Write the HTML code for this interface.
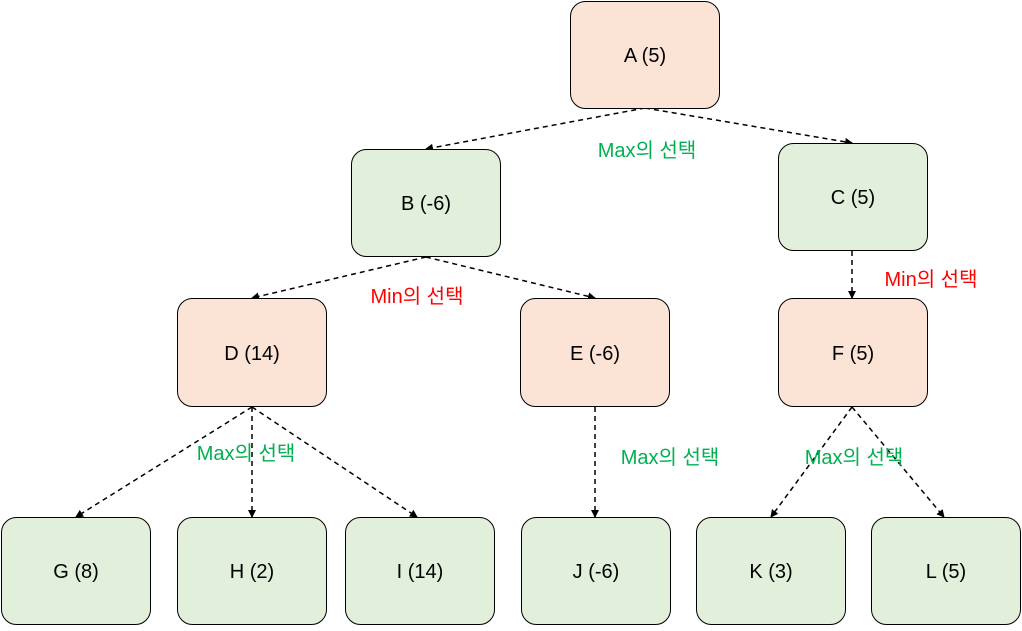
<!DOCTYPE html>
<html><head><meta charset="utf-8"><style>
body{margin:0;background:#fff;}
svg text{font-family:"Liberation Sans","Noto Sans CJK KR",sans-serif;}
</style></head><body>
<svg width="1022" height="626" viewBox="0 0 1022 626" xmlns="http://www.w3.org/2000/svg">
<defs><marker id="ar" markerWidth="8" markerHeight="8" refX="7" refY="4" orient="auto" markerUnits="userSpaceOnUse"><path d="M0,0 L8,4 L0,8 Z" fill="#000"/></marker></defs>
<g stroke="#000" stroke-width="1.5" stroke-dasharray="5,4" marker-end="url(#ar)" fill="none">
<line x1="645" y1="108" x2="426" y2="149"/>
<line x1="645" y1="108" x2="852" y2="143"/>
<line x1="426" y1="257" x2="252" y2="298"/>
<line x1="426" y1="257" x2="595" y2="298"/>
<line x1="852" y1="251" x2="852" y2="298"/>
<line x1="252" y1="407" x2="76" y2="517"/>
<line x1="252" y1="407" x2="252" y2="517"/>
<line x1="252" y1="407" x2="417" y2="517"/>
<line x1="595" y1="407" x2="595" y2="517"/>
<line x1="852" y1="407" x2="771" y2="517"/>
<line x1="852" y1="407" x2="944" y2="517"/>
</g>
<g stroke="#000" stroke-width="1">
<rect x="570.5" y="1.5" width="149" height="107" rx="15" fill="#fbe3d6"/>
<rect x="351.5" y="149.5" width="149" height="107" rx="15" fill="#e2efda"/>
<rect x="778.5" y="143.5" width="149" height="107" rx="15" fill="#e2efda"/>
<rect x="177.5" y="298.5" width="149" height="108" rx="15" fill="#fbe3d6"/>
<rect x="520.5" y="298.5" width="149" height="108" rx="15" fill="#fbe3d6"/>
<rect x="778.5" y="298.5" width="149" height="108" rx="15" fill="#fbe3d6"/>
<rect x="1.5" y="517.5" width="149" height="107" rx="15" fill="#e2efda"/>
<rect x="177.5" y="517.5" width="149" height="107" rx="15" fill="#e2efda"/>
<rect x="345.5" y="517.5" width="149" height="107" rx="15" fill="#e2efda"/>
<rect x="521.5" y="517.5" width="149" height="107" rx="15" fill="#e2efda"/>
<rect x="696.5" y="517.5" width="149" height="107" rx="15" fill="#e2efda"/>
<rect x="871.5" y="517.5" width="149" height="107" rx="15" fill="#e2efda"/>
</g>
<g font-size="20" text-anchor="middle" fill="#000">
<text x="645" y="62">A (5)</text>
<text x="426" y="210">B (-6)</text>
<text x="853" y="204">C (5)</text>
<text x="252" y="360">D (14)</text>
<text x="595" y="360">E (-6)</text>
<text x="853" y="360">F (5)</text>
<text x="76" y="578">G (8)</text>
<text x="252" y="578">H (2)</text>
<text x="420" y="578">I (14)</text>
<text x="596" y="578">J (-6)</text>
<text x="771" y="578">K (3)</text>
<text x="946" y="578">L (5)</text>
</g>
<g font-size="20" text-anchor="middle">
<text x="647" y="157" fill="#00b050">Max의 선택</text>
<text x="417" y="303" fill="#ff0000">Min의 선택</text>
<text x="931" y="286" fill="#ff0000">Min의 선택</text>
<text x="246" y="460" fill="#00b050">Max의 선택</text>
<text x="670" y="464" fill="#00b050">Max의 선택</text>
<text x="854" y="464" fill="#00b050">Max의 선택</text>
</g>
</svg>
</body></html>
